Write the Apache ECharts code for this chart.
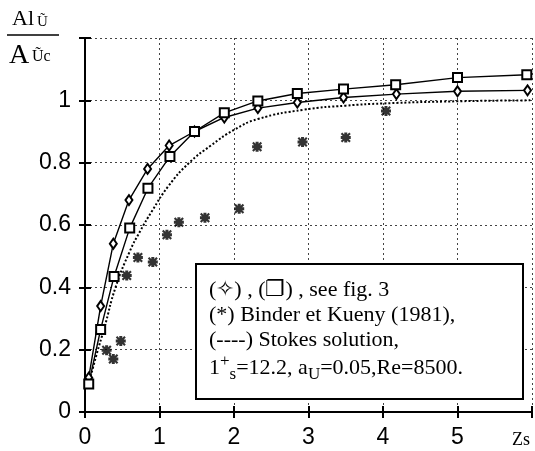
<!DOCTYPE html>
<html>
<head>
<meta charset="utf-8">
<script src="https://cdn.jsdelivr.net/npm/echarts@6/dist/echarts.min.js"></script>
<style>
  html, body { margin: 0; padding: 0; background: #fff; }
  #main { width: 535px; height: 451px; }
</style>
</head>
<body>
<div id="main"></div>
<script>
// values
const diamondX = [0.05, 0.21, 0.38, 0.59, 0.84, 1.13, 1.47, 1.87, 2.32, 2.85, 3.47, 4.18, 5.0, 5.94];
const diamondY = [0.11, 0.34, 0.54, 0.68, 0.78, 0.855, 0.90, 0.945, 0.975, 0.993, 1.009, 1.02, 1.029, 1.032];

const squareX = [0.05, 0.21, 0.39, 0.60, 0.845, 1.14, 1.47, 1.87, 2.32, 2.85, 3.47, 4.17, 5.0, 5.93];
const squareY = [0.09, 0.265, 0.435, 0.59, 0.718, 0.82, 0.90, 0.96, 0.998, 1.022, 1.036, 1.05, 1.073, 1.082];

const binderX = [0.29, 0.38, 0.48, 0.56, 0.71, 0.91, 1.10, 1.26, 1.61, 2.07, 2.31, 2.92, 3.50, 4.04];
const binderY = [0.198, 0.17, 0.228, 0.438, 0.496, 0.481, 0.569, 0.609, 0.623, 0.652, 0.851, 0.866, 0.881, 0.966];

const stokesX = [0.05, 0.15, 0.26, 0.41, 0.6, 0.74, 0.9, 1.12, 1.4, 1.69, 2.0, 2.32, 2.94, 3.5, 4.0, 5.0, 6.0];
const stokesY = [0.09, 0.18, 0.27, 0.40, 0.515, 0.58, 0.645, 0.725, 0.80, 0.855, 0.905, 0.94, 0.97, 0.983, 0.99, 0.997, 1.0];

const xTicks = ['0', '1', '2', '3', '4', '5'];
const yTicks = ['0', '0.2', '0.4', '0.6', '0.8', '1'];

const pairs = (xs, ys) => xs.map((x, i) => [x, ys[i]]);

// heavy asterisk marker
const star = 'path://M0,3.5 L10,3.5 L10,6.5 L0,6.5 Z M3.5,0 L6.5,0 L6.5,10 L3.5,10 Z ' +
             'M1.5,0 L10,8.5 L8.5,10 L0,1.5 Z M8.5,0 L10,1.5 L1.5,10 L0,8.5 Z';

const serif = '"Liberation Serif", "DejaVu Serif", serif';
const sans = '"Liberation Sans", Arial, sans-serif';

const chart = echarts.init(document.getElementById('main'));

const tickStyle = { show: true, inside: true, length: 6, lineStyle: { color: '#000', width: 2 } };
const lineAxis = { show: true, lineStyle: { color: '#000', width: 2 } };
const gridLine = { show: true, lineStyle: { color: '#444', type: [2, 3], width: 1 } };

const option = {
  animation: false,
  grid: { left: 85, top: 38, right: -2, bottom: 39 },
  xAxis: [
    {
      type: 'value', min: 0, max: 6, interval: 1, position: 'bottom',
      axisLine: lineAxis, axisTick: tickStyle, splitLine: gridLine,
      axisLabel: {
        margin: 14, color: '#000', fontSize: 23, fontFamily: sans,
        formatter: v => xTicks[Math.round(v)] || ''
      }
    },
    {
      type: 'value', min: 0, max: 6, interval: 1, position: 'top',
      axisLine: lineAxis, axisTick: tickStyle, splitLine: { show: false }, axisLabel: { show: false }
    }
  ],
  yAxis: [
    {
      type: 'value', min: 0, max: 1.2, interval: 0.2, position: 'left',
      axisLine: lineAxis, axisTick: tickStyle, splitLine: gridLine,
      axisLabel: {
        margin: 14, color: '#000', fontSize: 23, fontFamily: sans,
        formatter: v => yTicks[Math.round(v * 5)] || ''
      }
    },
    {
      type: 'value', min: 0, max: 1.2, interval: 0.2, position: 'right',
      axisLine: lineAxis, axisTick: tickStyle, splitLine: { show: false }, axisLabel: { show: false }
    }
  ],
  series: [
    {
      type: 'line', data: pairs(stokesX, stokesY), smooth: true, showSymbol: false,
      lineStyle: { color: '#000', width: 2, type: [2, 2] }
    },
    {
      type: 'line', data: pairs(diamondX, diamondY), symbol: 'emptyDiamond', symbolSize: [7, 10],
      lineStyle: { color: '#000', width: 1.4 }, itemStyle: { color: '#000', borderWidth: 1.4 }
    },
    {
      type: 'line', data: pairs(squareX, squareY), symbol: 'emptyRect', symbolSize: 9,
      lineStyle: { color: '#000', width: 1.4 }, itemStyle: { color: '#000', borderWidth: 1.4 }
    },
    {
      type: 'scatter', data: pairs(binderX, binderY), symbol: star, symbolSize: 10,
      itemStyle: { color: '#000' }
    }
  ],
  graphic: [
    { type: 'text', left: 12, top: 8, style: { text: 'Al', font: '22px ' + serif, fill: '#000' } },
    { type: 'text', left: 37, top: 15, style: { text: 'Ũ', font: '15px ' + serif, fill: '#000' } },
    { type: 'line', shape: { x1: 7, y1: 35, x2: 59, y2: 35 }, style: { stroke: '#000', lineWidth: 1.5 } },
    { type: 'text', left: 9, top: 42, style: { text: 'A', font: '28px ' + serif, fill: '#000' } },
    { type: 'text', left: 32, top: 49, style: { text: 'Ũc', font: '16px ' + serif, fill: '#000' } },
    { type: 'text', left: 512, top: 431, style: { text: 'Zs', font: '18px ' + serif, fill: '#000' } },
    {
      type: 'rect', left: 195, top: 263, z: 10,
      shape: { width: 327, height: 135 },
      style: { fill: '#fff', stroke: '#000', lineWidth: 2 }
    },
    {
      type: 'text', left: 209, top: 278, z: 11,
      style: {
        text: '(✧) , (❐) , see fig. 3\n(*) Binder et Kueny (1981),\n(----) Stokes solution,\n' +
              '{a|1}{sup|+}{sub|s}{a|=12.2, a}{sub|U}{a|=0.05,Re=8500.}',
        font: '22px ' + serif, fill: '#000', lineHeight: 25,
        rich: {
          a: { fontSize: 22, fontFamily: serif, lineHeight: 30, verticalAlign: 'middle' },
          sup: { fontSize: 17, fontFamily: serif, lineHeight: 30, verticalAlign: 'top' },
          sub: { fontSize: 17, fontFamily: serif, lineHeight: 30, verticalAlign: 'bottom' }
        }
      }
    }
  ]
};

chart.setOption(option);
</script>
</body>
</html>
